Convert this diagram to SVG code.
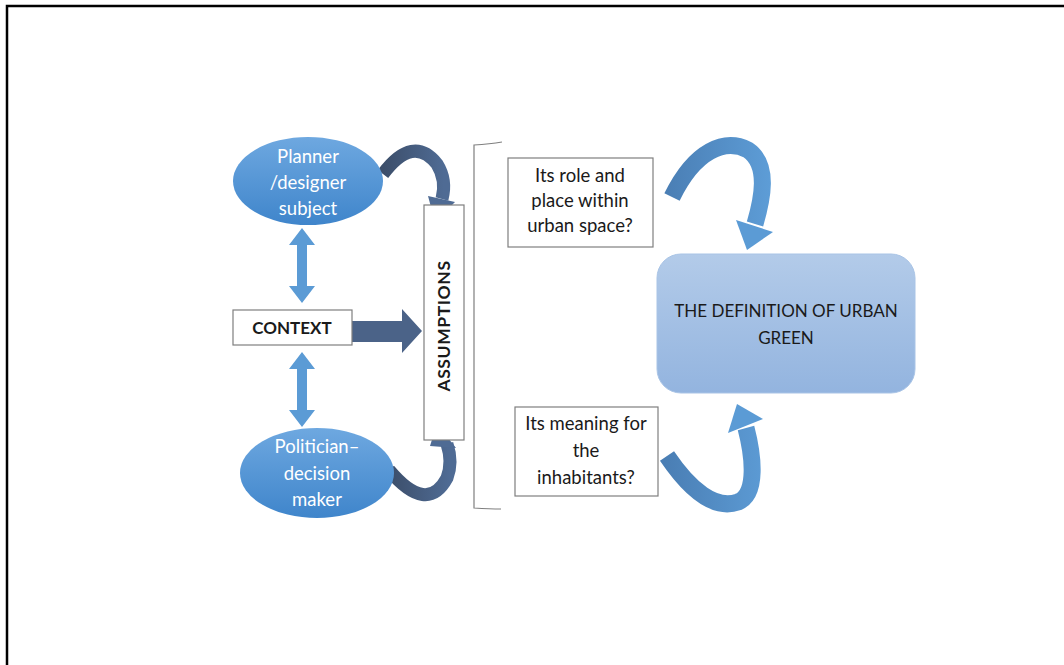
<svg xmlns="http://www.w3.org/2000/svg" width="1064" height="665" viewBox="0 0 1064 665">
<style>
.box{fill:#fff;stroke:#7f7f7f;stroke-width:1.2}
.t{font-family:Lato,"Liberation Sans",sans-serif;font-size:18.5px;fill:#1a1a1a;text-anchor:middle}
.d{font-family:Lato,"Liberation Sans",sans-serif;font-size:17px;fill:#1a1a1a;text-anchor:middle}
.w{font-family:Lato,"Liberation Sans",sans-serif;font-size:18.5px;fill:#fff;text-anchor:middle}
.b{font-family:Lato,"Liberation Sans",sans-serif;font-size:17px;font-weight:bold;fill:#1a1a1a;text-anchor:middle}
.lb{fill:#5b9bd5}
.dk{fill:none;stroke:url(#gd);stroke-width:13}
.rb{fill:none;stroke-width:17}
</style>
<defs>
<linearGradient id="ge" x1="0" y1="0" x2="0" y2="1">
<stop offset="0" stop-color="#6ea8e0"/><stop offset="1" stop-color="#3f85cb"/>
</linearGradient>
<linearGradient id="gr" x1="0" y1="0" x2="0" y2="1">
<stop offset="0" stop-color="#b3cbe9"/><stop offset="1" stop-color="#93b4df"/>
</linearGradient>
<linearGradient id="gd" x1="0" y1="0" x2="1" y2="0">
<stop offset="0" stop-color="#3c4e6a"/><stop offset="1" stop-color="#4f6b94"/>
</linearGradient>
<linearGradient id="gb1" gradientUnits="userSpaceOnUse" x1="665" y1="0" x2="775" y2="0">
<stop offset="0" stop-color="#4a7eb4"/><stop offset="1" stop-color="#5e9ed8"/>
</linearGradient>
</defs>
<path d="M7,665 V6 H1064" fill="none" stroke="#000" stroke-width="2.5"/>

<g id="connectors">
<polygon class="lb" points="302,228 315,245 307,245 307,286 315,286 302,303 289,286 297,286 297,245 289,245"/>
<polygon class="lb" points="302,352 315,369 307,369 307,410 315,410 302,427 289,410 297,410 297,369 289,369"/>
<polygon fill="#4b6388" points="352,321 402,321 402,309 422,331 402,353 402,342 352,342"/>
<path class="dk" d="M383,174 Q413,134 437,164 Q447,180 442,199"/>
<polygon fill="#4f6b94" points="428,196 455,202 435,222"/>
<path class="dk" d="M389,470 Q427,515 447,478 Q453,462 447,444"/>
<polygon fill="#4f6b94" points="430,446 456,448 437,424"/>
<path class="rb" stroke="url(#gb1)" d="M672,197 C695,150 725,138 748,150 C770,165 762,200 755,224"/>
<polygon fill="#5b9bd5" points="736,220 773,232 747,250"/>
<path class="rb" stroke="url(#gb1)" d="M667,456 C690,490 715,510 738,502 C758,494 753,455 746,428"/>
<polygon fill="#5b9bd5" points="728,433 763,419 737,404"/>
<path d="M502,142 Q490,144 474,145 V508 Q490,509 501,509" fill="none" stroke="#7f7f7f" stroke-width="1.2"/>
</g>

<g id="planner">
<ellipse cx="308" cy="181" rx="75" ry="44" fill="url(#ge)"/>
<text class="w" x="308" y="163">Planner</text>
<text class="w" x="308" y="189">/designer</text>
<text class="w" x="308" y="215">subject</text>
</g>
<g id="politician">
<ellipse cx="317" cy="473" rx="77" ry="45" fill="url(#ge)"/>
<text class="w" x="317" y="453">Politician–</text>
<text class="w" x="317" y="480">decision</text>
<text class="w" x="317" y="506">maker</text>
</g>
<g id="context">
<rect class="box" x="233" y="310" width="119" height="35"/>
<text class="b" x="292" y="334">CONTEXT</text>
</g>
<g id="assumptions">
<rect class="box" x="424" y="205" width="40" height="235"/>
<text class="b" transform="translate(450,326) rotate(-90)" x="0" y="0" style="font-size:17.5px;letter-spacing:0.6px">ASSUMPTIONS</text>
</g>
<g id="role">
<rect class="box" x="508" y="158" width="145" height="89"/>
<text class="t" x="580" y="182">Its role and</text>
<text class="t" x="580" y="207">place within</text>
<text class="t" x="580" y="232">urban space?</text>
</g>
<g id="meaning">
<rect class="box" x="515" y="407" width="143" height="89"/>
<text class="t" x="586" y="430">Its meaning for</text>
<text class="t" x="586" y="457">the</text>
<text class="t" x="586" y="484">inhabitants?</text>
</g>
<g id="definition">
<rect x="657" y="254" width="258" height="139" rx="24" fill="url(#gr)" stroke="#a9c4e6" stroke-width="1"/>
<text class="d" x="786" y="317">THE DEFINITION OF URBAN</text>
<text class="d" x="786" y="344">GREEN</text>
</g>
</svg>
